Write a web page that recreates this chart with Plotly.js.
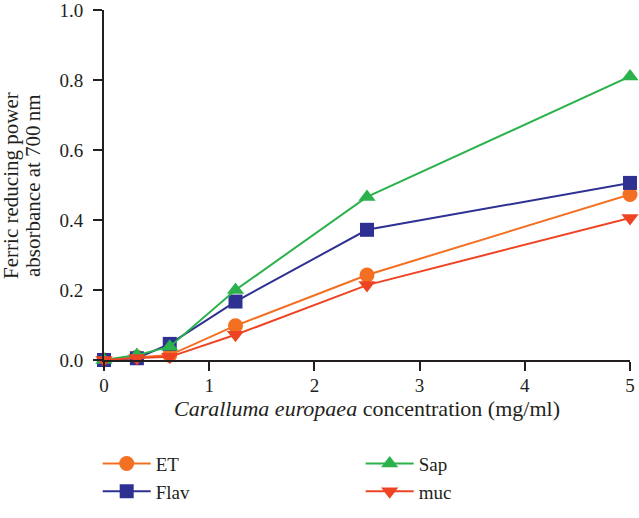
<!DOCTYPE html>
<html>
<head>
<meta charset="utf-8">
<script src="https://cdn.plot.ly/plotly-3.0.1.min.js"></script>
<style>html,body{margin:0;padding:0;background:#fff;}#chart{width:639px;height:518px;}</style>
</head>
<body>
<div id="chart"></div>
<script>
const concentrations = [0, 0.3125, 0.625, 1.25, 2.5, 5];
const etValues   = [0, 0.008, 0.014, 0.098, 0.243, 0.473];
const flavValues = [0, 0.005, 0.046, 0.167, 0.372, 0.506];
const sapValues  = [0, 0.014, 0.038, 0.200, 0.466, 0.810];
const mucValues  = [0, 0.006, 0.009, 0.072, 0.214, 0.406];
const seriesNames = ['ET', 'Flav', 'Sap', 'muc'];
const xTicks = [0, 1, 2, 3, 4, 5];
const yTicks = [0, 0.2, 0.4, 0.6, 0.8, 1.0];
const yTitleLines = ['Ferric reducing power', 'absorbance at 700\u2009nm'];

const FONT = 'Liberation Serif';
const AX = '#231f20';

function tr(name, y, color, symbol, size, rank) {
  return {
    x: concentrations, y: y, name: name, type: 'scatter', mode: 'lines+markers',
    line: {color: color, width: 2},
    marker: {color: color, symbol: symbol, size: size},
    cliponaxis: false, legendrank: rank
  };
}

const data = [
  tr(seriesNames[0], etValues, '#f36f21', 'circle', 15, 1),
  tr(seriesNames[1], flavValues, '#2e3192', 'square', 14, 3),
  tr(seriesNames[2], sapValues, '#2bb24c', 'triangle-up', 15, 2),
  tr(seriesNames[3], mucValues, '#ee4423', 'triangle-down', 15, 4)
];

const layout = {
  width: 639, height: 518,
  margin: {l: 104, r: 9, t: 10, b: 158, autoexpand: false},
  paper_bgcolor: '#fff', plot_bgcolor: '#fff',
  font: {family: FONT, size: 19, color: AX},
  showlegend: true,
  legend: {
    orientation: 'h', x: -0.012, xanchor: 'left', y: -0.242, yanchor: 'top',
    entrywidth: 200, entrywidthmode: 'pixels', itemwidth: 48,
    font: {family: FONT, size: 19, color: AX},
    tracegroupgap: 0
  },
  xaxis: {
    range: [0, 5], tickvals: xTicks, ticktext: xTicks.map(String),
    showline: true, linecolor: AX, linewidth: 2, automargin: false,
    ticks: 'outside', ticklen: 9, tickwidth: 2, tickcolor: AX,
    showgrid: false, zeroline: false, ticklabeloverflow: 'allow', ticklabelstandoff: -2,
    tickfont: {family: FONT, size: 19, color: AX},
    title: {text: '<i>Caralluma europaea</i> concentration (mg/ml)', font: {family: FONT, size: 22, color: AX}, standoff: 3}
  },
  yaxis: {
    range: [0, 1], tickvals: yTicks, ticktext: yTicks.map(v => v.toFixed(1)),
    showline: true, linecolor: AX, linewidth: 2, automargin: false,
    ticks: 'outside', ticklen: 9, tickwidth: 2, tickcolor: AX,
    showgrid: false, zeroline: false, ticklabelstandoff: 6, ticklabeloverflow: 'allow',
    tickfont: {family: FONT, size: 19, color: AX}
  },
  annotations: [
    {text: yTitleLines[0], xref: 'paper', yref: 'paper', x: -0.177, y: 0.5, xanchor: 'center', yanchor: 'middle',
     textangle: -90, showarrow: false, font: {family: FONT, size: 21, color: AX}},
    {text: yTitleLines[1], xref: 'paper', yref: 'paper', x: -0.135, y: 0.5, xanchor: 'center', yanchor: 'middle',
     textangle: -90, showarrow: false, font: {family: FONT, size: 21, color: AX}}
  ],
  shapes: [
    {type: 'line', xref: 'paper', yref: 'y', x0: -0.019, x1: 0, y0: 0, y1: 0, line: {color: AX, width: 2}}
  ]
};

Plotly.newPlot('chart', data, layout, {displayModeBar: false, staticPlot: true});
</script>
</body>
</html>
